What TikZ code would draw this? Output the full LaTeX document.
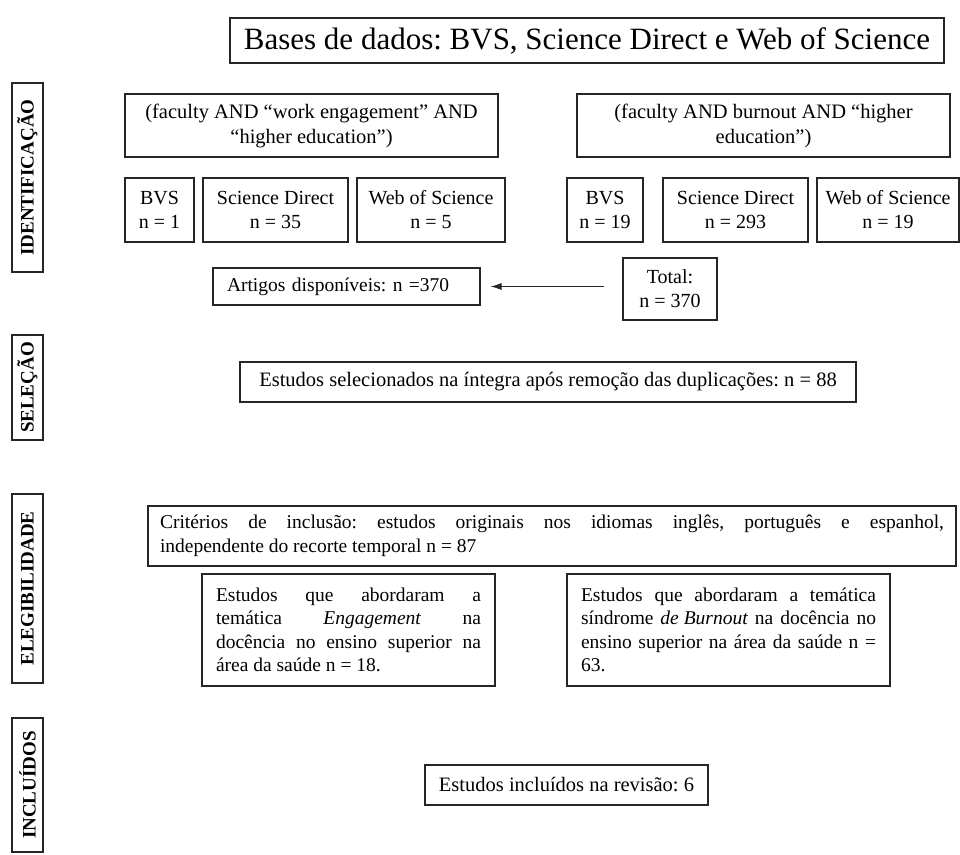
\documentclass[tikz,border=0pt]{standalone}
\usepackage{fontspec}
\setmainfont{Liberation Serif}
\usetikzlibrary{arrows.meta}
\frenchspacing
\begin{document}
\begin{tikzpicture}[x=1pt,y=-1pt,
  box/.style={draw=black!85, line width=1.1pt, inner sep=0pt, align=center,
              font=\frenchspacing\fontsize{20}{24}\selectfont},
  lab/.style={draw=black!85, line width=1.1pt, rotate=90, inner sep=0pt,
              minimum height=31pt, font=\bfseries\fontsize{19}{22}\selectfont},
  jbox/.style={draw=black!85, line width=1.1pt, inner xsep=14pt, inner ysep=0pt,
              align=justify, font=\frenchspacing\fontsize{19.5}{23.5}\selectfont},
  arr/.style={line width=1.1pt, draw=black!85, -{Latex[length=11pt,width=7pt]}}
]
\useasboundingbox (0,0) rectangle (960,854);

% title
\node[box, minimum width=714pt, minimum height=45pt,
      font=\fontsize{31}{34}\selectfont] (title) at (587,40.5)
  {Bases de dados: BVS, Science Direct e Web of Science};

% side labels
\node[lab, minimum width=189pt] (lid)  at (27.5,177.5) {IDENTIFICAÇÃO};
\node[lab, minimum width=105pt] (lsel) at (27.5,387.5) {SELEÇÃO};
\node[lab, minimum width=189pt] (lele) at (27.5,588.5) {ELEGIBILIDADE};
\node[lab, minimum width=134pt] (linc) at (27.5,785)   {INCLUÍDOS};

% queries
\node[box, minimum width=373pt, minimum height=63pt,
      font=\fontsize{20.5}{25}\selectfont] (q1) at (311.5,125.5)
  {(faculty AND “work engagement” AND\\“higher education”)};
\node[box, minimum width=373pt, minimum height=63pt,
      font=\fontsize{20.5}{25}\selectfont] (q2) at (763.5,125.5)
  {(faculty AND burnout AND “higher\\education”)};

% databases
\node[box, minimum width=69pt,  minimum height=64pt] (b1) at (159.5,210) {BVS\\n = 1};
\node[box, minimum width=145pt, minimum height=64pt] (s1) at (275.5,210) {Science Direct\\n = 35};
\node[box, minimum width=148pt, minimum height=64pt] (w1) at (431,210)   {Web of Science\\n = 5};
\node[box, minimum width=76pt,  minimum height=64pt] (b2) at (605,210)   {BVS\\n = 19};
\node[box, minimum width=145pt, minimum height=64pt] (s2) at (735.5,210) {Science Direct\\n = 293};
\node[box, minimum width=142pt, minimum height=64pt] (w2) at (888,210)   {Web of Science\\n = 19};

% totals
\node[jbox, align=left, text width=239pt, minimum height=37pt] (artigos) at (346.5,286.5)
  {Artigos disponíveis: n =370};
\node[box, minimum width=94pt, minimum height=62pt] (total) at (670,289)
  {Total:\\n = 370};
\draw[arr, shorten <=18pt, shorten >=10pt] (total.west |- artigos.east) -- (artigos.east);

% selection
\node[box, minimum width=616pt, minimum height=40pt,
      font=\frenchspacing\fontsize{20.5}{24}\selectfont] (sel) at (548,382)
  {Estudos selecionados na íntegra após remoção das duplicações: n = 88};

% eligibility
\node[jbox, inner xsep=12pt, text width=784pt, minimum height=60pt] (crit) at (552,536)
  {\hbox to 784pt{Critérios\hfill de\hfill inclusão:\hfill estudos\hfill originais\hfill nos\hfill idiomas\hfill inglês,\hfill português\hfill e\hfill espanhol,}
   \hbox{independente do recorte temporal n = 87}};
\node[jbox, text width=265pt, minimum height=112pt] (eng) at (348.5,630)
  {\hbox to 265pt{Estudos\hfill que\hfill abordaram\hfill a}
   \hbox to 265pt{temática\hfill \textit{Engagement}\hfill na}
   \hbox to 265pt{docência\hfill no\hfill ensino\hfill superior\hfill na}
   \hbox{área da saúde n = 18.}};
\node[jbox, text width=295pt, minimum height=112pt] (bur) at (728.5,630)
  {\hbox to 295pt{Estudos\hfill que\hfill abordaram\hfill a\hfill temática}
   \hbox to 295pt{síndrome\hfill \textit{de Burnout}\hfill na\hfill docência\hfill no}
   \hbox to 295pt{ensino\hfill superior\hfill na\hfill área\hfill da\hfill saúde\hfill n\hfill =}
   \hbox{63.}};

% included
\node[box, minimum width=283pt, minimum height=40pt,
      font=\frenchspacing\fontsize{20.5}{24}\selectfont] (incl) at (566.5,785)
  {Estudos incluídos na revisão: 6};
\end{tikzpicture}
\end{document}
